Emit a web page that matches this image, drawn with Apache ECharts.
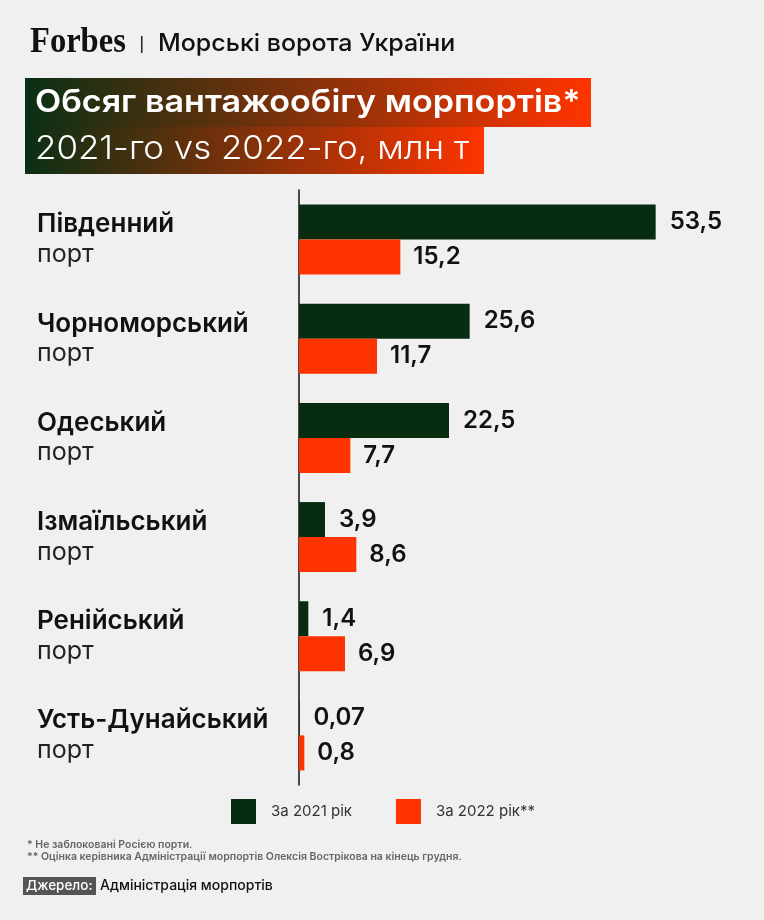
<!DOCTYPE html>
<html>
<head>
<meta charset="utf-8">
<script src="https://cdn.jsdelivr.net/npm/echarts@6/dist/echarts.min.js"></script>
<style>
  html, body { margin: 0; padding: 0; background: #f0f0f0; }
  #chart { width: 764px; height: 920px; }
</style>
</head>
<body>
<div id="chart"></div>
<script>
// дані
var ports = ['Південний', 'Чорноморський', 'Одеський', 'Ізмаїльський', 'Ренійський', 'Усть-Дунайський'];
var portSuffix = 'порт';
var data2021 = [53.5, 25.6, 22.5, 3.9, 1.4, 0.07];
var data2022 = [15.2, 11.7, 7.7, 8.6, 6.9, 0.8];
var name2021 = 'За 2021 рік';
var name2022 = 'За 2022 рік**';

var darkGreen = '#082c10';
var orange = '#ff3300';
var font = 'Inter';

function commaNum(v) {
    return String(v).replace('.', ',');
}

var myChart = echarts.init(document.getElementById('chart'));

var option = {
    backgroundColor: '#f0f0f0',
    animation: false,
    textStyle: { fontFamily: font },
    grid: {
        left: 299,
        top: 190,
        width: 400,
        height: 595
    },
    xAxis: {
        type: 'value',
        min: 0,
        max: 60,
        show: false
    },
    yAxis: {
        type: 'category',
        inverse: true,
        data: ports,
        axisTick: { show: false },
        axisLine: { show: true, lineStyle: { color: '#111', width: 1.5 } },
        axisLabel: {
            align: 'left',
            margin: 262,
            formatter: function (v) {
                return '{b|' + v + '}\n{r|' + portSuffix + '}';
            },
            rich: {
                b: { fontFamily: font, fontSize: 26, fontWeight: 600, color: '#111', lineHeight: 30 },
                r: { fontFamily: font, fontSize: 25, color: '#222', lineHeight: 30 }
            }
        }
    },
    legend: {
        left: 231,
        top: 799,
        padding: 0,
        itemWidth: 25,
        itemHeight: 25,
        itemGap: 44,
        icon: 'rect',
        data: [name2021, name2022],
        textStyle: { fontFamily: font, fontSize: 15, color: '#333', padding: [0, 0, 0, 10] }
    },
    series: [{
        name: name2021,
        type: 'bar',
        barWidth: 35,
        barGap: '0%',
        itemStyle: { color: darkGreen },
        label: {
            show: true,
            position: 'right',
            distance: 14,
            fontFamily: font,
            fontSize: 24,
            fontWeight: 600,
            color: '#111',
            formatter: function (p) { return commaNum(p.value); }
        },
        data: data2021
    }, {
        name: name2022,
        type: 'bar',
        barWidth: 35,
        itemStyle: { color: orange },
        label: {
            show: true,
            position: 'right',
            distance: 13,
            fontFamily: font,
            fontSize: 24,
            fontWeight: 600,
            color: '#111',
            formatter: function (p) { return commaNum(p.value); }
        },
        data: data2022
    }],
    graphic: [
        // шапка
        { type: 'text', x: 30, y: 43, scaleX: 0.93, style: { text: 'Forbes', font: 'bold 35px "Liberation Serif"', fill: '#111', verticalAlign: 'middle' } },
        { type: 'rect', shape: { x: 141, y: 36, width: 1.5, height: 17 }, style: { fill: '#222' } },
        { type: 'text', x: 158, y: 44, scaleX: 1.04, style: { text: 'Морські ворота України', font: '500 24px Inter', fill: '#111', verticalAlign: 'middle' } },
        {
            type: 'rect', shape: { x: 25, y: 78, width: 566, height: 49 },
            style: { fill: new echarts.graphic.LinearGradient(0, 0, 1, 0, [
                { offset: 0, color: '#0a2f14' }, { offset: 1, color: '#ff3400' }]) }
        },
        {
            type: 'rect', shape: { x: 25, y: 127, width: 459, height: 47 },
            style: { fill: new echarts.graphic.LinearGradient(0, 0, 1, 0, [
                { offset: 0, color: '#0a2f14' }, { offset: 1, color: '#ff3400' }]) }
        },
        { type: 'text', x: 35, y: 103, scaleX: 1.1, style: { text: 'Обсяг вантажообігу морпортів*', font: '600 31px Inter', fill: '#fff', verticalAlign: 'middle' } },
        { type: 'text', x: 35, y: 149, scaleX: 1.09, style: { text: '2021-го vs 2022-го, млн т', font: '300 32px Inter', fill: '#fff', verticalAlign: 'middle' } },
        // примітки
        { type: 'text', x: 27, y: 845, style: { text: '* Не заблоковані Росією порти.', font: '600 10.5px Inter', fill: '#666', verticalAlign: 'middle' } },
        { type: 'text', x: 27, y: 857, style: { text: '** Оцінка керівника Адміністрації морпортів Олексія Вострікова на кінець грудня.', font: '600 10.5px Inter', fill: '#666', verticalAlign: 'middle' } },
        { type: 'rect', shape: { x: 23, y: 877, width: 73, height: 18 }, style: { fill: '#555' } },
        { type: 'text', x: 26, y: 886, style: { text: 'Джерело:', font: '500 13.5px Inter', fill: '#fff', verticalAlign: 'middle' } },
        { type: 'text', x: 100, y: 886, style: { text: 'Адміністрація морпортів', font: '500 14px Inter', fill: '#111', verticalAlign: 'middle' } }
    ]
};

myChart.setOption(option);
</script>
</body>
</html>
